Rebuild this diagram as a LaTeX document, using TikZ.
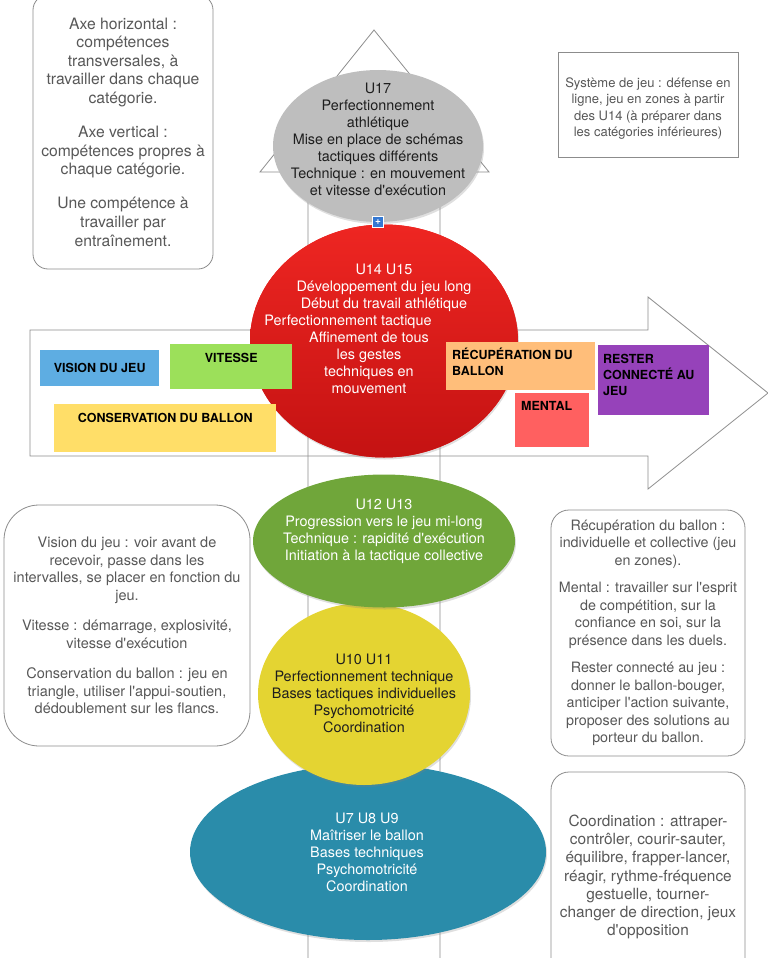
\documentclass[tikz,border=0pt]{standalone}
\usepackage{fontspec}
\setmainfont{TeX Gyre Heros}[Ligatures=TeXOff]
\usetikzlibrary{shapes.geometric,shadows}
\definecolor{rule}{RGB}{140,140,140}
\definecolor{notegrey}{RGB}{88,88,88}
\definecolor{ink}{RGB}{30,30,30}
\definecolor{greyball}{RGB}{190,190,190}
\definecolor{redtop}{RGB}{238,38,34}
\definecolor{redbot}{RGB}{196,18,18}
\definecolor{greenball}{RGB}{112,166,58}
\definecolor{yellowball}{RGB}{228,212,50}
\definecolor{blueball}{RGB}{42,140,170}
\definecolor{vision}{RGB}{94,173,226}
\definecolor{vitesse}{RGB}{156,224,90}
\definecolor{conserv}{RGB}{255,222,104}
\definecolor{recup}{RGB}{255,190,122}
\definecolor{mental}{RGB}{255,96,96}
\definecolor{connect}{RGB}{150,66,186}
\definecolor{iconblue}{RGB}{52,120,210}
\newcommand\fs[2]{\fontsize{#1}{#2}\selectfont}
\newcommand\tagfont{\bfseries\fs{12.5}{16}}
\newcommand\pad[1]{\rule{#1}{0pt}}
\tikzset{
  axis line/.style={draw=rule,line width=0.8pt},
  note/.style={draw=rule,line width=0.8pt,fill=white,rounded corners=#1,
    text=notegrey,align=center,inner sep=0pt},
  note/.default=18pt,
  ball/.style={ellipse,fill=#1,inner sep=0pt,
    drop shadow={opacity=0.25,shadow xshift=1pt,shadow yshift=-2pt}},
  balltext/.style={text=#1,align=center,font=\fs{14.4}{17},inner sep=0pt},
  balltext/.default=white,
  tag/.style={fill=#1,anchor=north west,inner sep=0pt},
  tagtext/.style={font=\tagfont,align=left,inner sep=0pt,text=black},
}

\begin{document}
\begin{tikzpicture}[x=1pt,y=-1pt]
  \useasboundingbox (0,0) rectangle (768,958);
  \clip (0,0) rectangle (768,958);
  % the two axes
  \draw[axis line] (308,958) -- (308,172) -- (260,172) -- (374,30) -- (489,172) -- (440,172) -- (440,958);
  \draw[axis line] (30,330) -- (648,330) -- (648,297) -- (768,393) -- (648,489) -- (648,456) -- (30,456) -- cycle;
  % side notes
  \node[note=15pt,minimum width=180pt,minimum height=274pt,font=\fs{15.7}{18.6}] (axes) at (123,132)
    {Axe horizontal :\\compétences\\transversales, à\\travailler dans chaque\\catégorie.\\[15.5pt]
     Axe vertical :\\compétences propres à\\chaque catégorie.\\[15.5pt]
     Une compétence à\\travailler par\\entraînement.};
  \node[note=0pt,minimum width=180pt,minimum height=105pt,font=\fs{13}{16.5}] (systeme) at (648,104.5)
    {\rule{0pt}{18pt}Système de jeu : défense en\\ligne, jeu en zones à partir\\des U14 (à préparer dans\\les catégories inférieures)};
  \node[note=35pt,minimum width=246pt,minimum height=241pt,font=\fs{14.5}{17.7}] (gauche) at (127,625.5)
    {Vision du jeu : voir avant de\\recevoir, passe dans les\\intervalles, se placer en fonction du\\jeu.\\[12.5pt]
     Vitesse : démarrage, explosivité,\\vitesse d'exécution\\[12.5pt]
     Conservation du ballon : jeu en\\triangle, utiliser l'appui-soutien,\\dédoublement sur les flancs.};
  \node[note,minimum width=194pt,minimum height=246pt,font=\fs{14.3}{17.5}] (droite) at (648,633)
    {Récupération du ballon :\\individuelle et collective (jeu\\en zones).\\[10pt]
     Mental : travailler sur l'esprit\\de compétition, sur la\\confiance en soi, sur la\\présence dans les duels.\\[10pt]
     Rester connecté au jeu :\\donner le ballon-bouger,\\anticiper l'action suivante,\\proposer des solutions au\\porteur du ballon.};
  \node[note,minimum width=194pt,minimum height=210pt,font=\fs{15.4}{18.3}] (coord) at (648,877)
    {Coordination : attraper-\\contrôler, courir-sauter,\\équilibre, frapper-lancer,\\réagir, rythme-fréquence\\gestuelle, tourner-\\changer de direction, jeux\\d'opposition};
  % age groups
  \foreach \n/\c/\x/\y/\w/\h in {u7/blueball/368/852/356pt/176pt,u10/yellowball/364/694/212pt/182pt,
      u12/greenball/384/541/262pt/133pt}
    \node[ball=\c,minimum width=\w,minimum height=\h] (\n) at (\x,\y) {};
  \node[ball=redtop,top color=redtop,bottom color=redbot,minimum width=268pt,minimum height=233pt] (u14) at (384,341) {};
  \node[ball=greyball,minimum width=210pt,minimum height=152pt] (u17) at (378,146) {};
  \node[fill=iconblue,draw=white,line width=0.6pt,text=white,font=\bfseries\fs{10}{10},
    inner sep=0pt,minimum size=11pt] (plus) at (u17.south) {+};
  % transversal skills
  \node[tag=vision,minimum width=119pt,minimum height=36pt,font=\tagfont] (vis) at (40,350) {VISION DU JEU};
  \node[tag=vitesse,minimum width=122pt,minimum height=45pt,
    label={[tagtext,anchor=north,inner ysep=9.5pt]north:VITESSE}] (vit) at (170,344) {};
  \node[tag=conserv,minimum width=222pt,minimum height=48pt,
    label={[tagtext,anchor=north,inner ysep=9.5pt]north:CONSERVATION DU BALLON}] (cons) at (54,404) {};
  \node[tag=recup,minimum width=149pt,minimum height=48pt,
    label={[tagtext,anchor=north west,inner sep=6pt]north west:RÉCUPÉRATION DU\\BALLON}] (recu) at (446,342) {};
  \node[tag=mental,minimum width=74pt,minimum height=54pt,
    label={[tagtext,anchor=north west,inner xsep=6pt,inner ysep=8.5pt]north west:MENTAL}] (ment) at (515,393) {};
  \node[tag=connect,minimum width=111pt,minimum height=70pt,
    label={[tagtext,anchor=north west,inner xsep=5pt,inner ysep=9.5pt]north west:RESTER\\CONNECTÉ AU\\JEU}] (conn) at (598,345) {};
  % age group contents
  \node[balltext=ink] (t17) at (378,139) {U17\\Perfectionnement\\athlétique\\Mise en place de schémas\\tactiques différents\\Technique : en mouvement\\et vitesse d'exécution};
  \node[balltext] (t14) at (384,329) {U14 U15\\Développement du jeu long\\Début du travail athlétique\\Perfectionnement tactique\pad{72pt}\\Affinement de tous\pad{30pt}\\les gestes\pad{30pt}\\techniques en\pad{30pt}\\mouvement\pad{30pt}};
  \node[balltext] (t12) at (384,531.5) {U12 U13\\Progression vers le jeu mi-long\\Technique : rapidité d'exécution\\Initiation à la tactique collective};
  \node[balltext=ink] (t10) at (364,693.5) {U10 U11\\Perfectionnement technique\\Bases tactiques individuelles\\Psychomotricité\\Coordination};
  \node[balltext] (t7) at (367,852) {U7 U8 U9\\Maîtriser le ballon\\Bases techniques\\Psychomotricité\\Coordination};
\end{tikzpicture}
\end{document}
